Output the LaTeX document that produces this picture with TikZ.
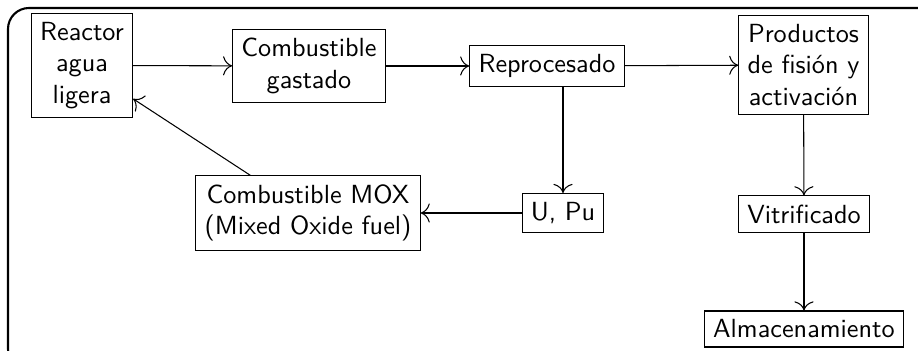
\documentclass[tikz,border=0pt]{standalone}
\usepackage{tikz}
\usetikzlibrary{arrows.meta}
\tikzset{caja/.style={draw,align=center,font=\sffamily}}
\begin{document}
\begin{tikzpicture}[x=0.0134cm,y=-0.0134cm,>={To[scale=1.4]}]
	\clip (0,0) rectangle (918,351);
	\draw[thick,rounded corners=8] (8,8) rectangle (940,370);
	\path
	(82,65.5) node[caja] (reactor) {Reactor\\agua\\ligera}
	(309,66) node[caja] (gastado) {Combustible\\gastado}
	(547,66) node[caja] (reproc) {Reprocesado}
	(803.5,65) node[caja] (productos) {Productos\\de fisión y\\activación}
	(563,213) node[caja] (upu) {U, Pu}
	(308,213) node[caja] (mox) {Combustible MOX\\(Mixed Oxide fuel)}
	(804,214) node[caja] (vitri) {Vitrificado}
	(804,329) node[caja] (almac) {Almacenamiento}
	;
	\draw[->] (reactor)--(gastado);
	\draw[->] (gastado)--(reproc);
	\draw[->] (reproc)--(productos);
	\draw[->] (reproc.south-|upu)--(upu);
	\draw[->] (upu)--(mox);
	\draw[->] (mox)--(reactor);
	\draw[->] (productos)--(vitri);
	\draw[->] (vitri)--(almac);
\end{tikzpicture}
\end{document}
